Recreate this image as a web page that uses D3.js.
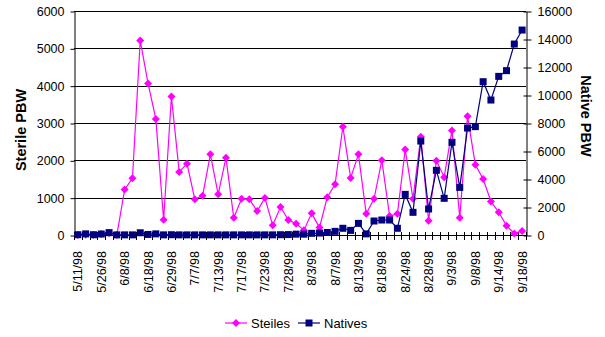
<!DOCTYPE html>
<html>
<head>
<meta charset="utf-8">
<script src="https://cdn.jsdelivr.net/npm/d3@7"></script>
<style>
  html, body { margin: 0; padding: 0; background: #fff; }
  svg { display: block; font-family: Arial, "Liberation Sans", sans-serif; }
</style>
</head>
<body>
<svg id="chart" width="605" height="337"></svg>
<script>
// Sample-day tick labels (one label every third sample)
const tickLabels = ["5/11/98", "5/26/98", "6/8/98", "6/18/98", "6/29/98", "7/7/98", "7/13/98",
  "7/17/98", "7/23/98", "7/28/98", "8/3/98", "8/7/98", "8/13/98", "8/18/98", "8/24/98",
  "8/28/98", "9/3/98", "9/8/98", "9/14/98", "9/18/98"];
const labelEvery = 3;

// Sterile PBW counts per sample (left axis)
const steriles = [0, 10, 0, 30, 50, 0, 1220, 1520, 5210, 4060, 3110, 410, 3710, 1690, 1910, 960,
  1050, 2160, 1090, 2070, 460, 970, 960, 640, 990, 260, 750, 400, 300, 130, 580, 200, 1010, 1360,
  2900, 1530, 2160, 570, 970, 2000, 510, 570, 2290, 970, 2630, 380, 1990, 1550, 2800, 460, 3180,
  1880, 1500, 900, 610, 250, 40, 110];

// Native PBW counts per sample (right axis)
const natives = [20, 80, 20, 70, 170, 10, 10, 10, 160, 40, 80, 10, 20, 10, 10, 10, 10, 10, 10, 10,
  10, 10, 10, 10, 10, 10, 20, 30, 60, 60, 120, 140, 180, 260, 480, 330, 830, 80, 1000, 1070, 1070,
  480, 2900, 1620, 6710, 1860, 4620, 2620, 6620, 3400, 7640, 7740, 10950, 9640, 11330, 11740,
  13640, 14640];

const leftTicks = [0, 1000, 2000, 3000, 4000, 5000, 6000];
const rightTicks = [0, 2000, 4000, 6000, 8000, 10000, 12000, 14000, 16000];

const seriesNames = ["Steiles", "Natives"];
const colors = { Steiles: "#ff00ff", Natives: "#000080" };

const svg = d3.select("#chart");
const plot = { left: 74, right: 526, top: 11, bottom: 235 };
const fmt = d3.format("d");

const x = d3.scaleBand().domain(d3.range(steriles.length)).range([plot.left, plot.right]);
const cx = i => x(i) + x.bandwidth() / 2;
const yL = d3.scaleLinear().domain([0, 6000]).range([plot.bottom, plot.top]);
const yR = d3.scaleLinear().domain([0, 16000]).range([plot.bottom, plot.top]);

// Horizontal gridlines from the left axis
svg.append("g").selectAll("line").data(leftTicks.filter(v => v > 0)).join("line")
  .attr("x1", plot.left).attr("x2", plot.right)
  .attr("y1", d => Math.round(yL(d)) + 0.5).attr("y2", d => Math.round(yL(d)) + 0.5)
  .attr("stroke", "#000").attr("stroke-width", 1);

// Left axis
const gL = svg.append("g").attr("transform", `translate(${plot.left + 0.5},0.5)`)
  .call(d3.axisLeft(yL).tickValues(leftTicks).tickFormat(fmt).tickSize(4).tickPadding(6).tickSizeOuter(0));
gL.select(".domain").attr("stroke", "#000");
gL.selectAll(".tick line").attr("stroke", "#000");
gL.selectAll(".tick text").attr("font-size", "12.5px").attr("fill", "#000")
  .attr("font-family", "Arial, 'Liberation Sans', sans-serif");

// Right axis (ticks cross the axis line)
const gR = svg.append("g").attr("transform", `translate(${plot.right + 0.5},0.5)`)
  .call(d3.axisRight(yR).tickValues(rightTicks).tickFormat(fmt).tickSize(5).tickPadding(6).tickSizeOuter(0));
gR.select(".domain").attr("stroke", "#000");
gR.selectAll(".tick line").attr("stroke", "#000").attr("x1", -3);
gR.selectAll(".tick text").attr("font-size", "12.5px").attr("fill", "#000")
  .attr("font-family", "Arial, 'Liberation Sans', sans-serif");

// Category axis: tick marks on band boundaries, labels on every third sample
const boundaries = d3.range(steriles.length + 1).map(i =>
  i < steriles.length ? x(i) : x(steriles.length - 1) + x.bandwidth());
const gX = svg.append("g");
gX.append("line").attr("x1", plot.left).attr("x2", plot.right + 1)
  .attr("y1", plot.bottom + 0.5).attr("y2", plot.bottom + 0.5).attr("stroke", "#000");
gX.selectAll("line.tk").data(boundaries).join("line").attr("class", "tk")
  .attr("x1", d => Math.round(d) + 0.5).attr("x2", d => Math.round(d) + 0.5)
  .attr("y1", plot.bottom - 3).attr("y2", plot.bottom + 5).attr("stroke", "#000");
gX.selectAll("text").data(tickLabels).join("text")
  .attr("transform", (d, k) => `translate(${cx(k * labelEvery) + 4.5},${plot.bottom + 16}) rotate(-90)`)
  .attr("text-anchor", "end").attr("font-size", "12.5px").attr("fill", "#000")
  .text(d => d);

// Series lines and markers
const diamond = (px, py, r) => `M${px},${py - r}L${px + r},${py}L${px},${py + r}L${px - r},${py}Z`;

const lineL = d3.line().x((d, i) => cx(i)).y(d => yL(d));
const lineR = d3.line().x((d, i) => cx(i)).y(d => yR(d));

svg.append("path").datum(steriles).attr("d", lineL)
  .attr("fill", "none").attr("stroke", colors.Steiles).attr("stroke-width", 1.2);
svg.append("g").selectAll("path").data(steriles).join("path")
  .attr("d", (d, i) => diamond(cx(i), yL(d), 4))
  .attr("fill", colors.Steiles);

svg.append("path").datum(natives).attr("d", lineR)
  .attr("fill", "none").attr("stroke", colors.Natives).attr("stroke-width", 1.2);
svg.append("g").selectAll("rect").data(natives).join("rect")
  .attr("x", (d, i) => cx(i) - 3.5).attr("y", d => yR(d) - 3.5)
  .attr("width", 7).attr("height", 7)
  .attr("fill", colors.Natives);

// Axis titles
svg.append("text").attr("transform", "translate(26,130) rotate(-90)")
  .attr("text-anchor", "middle").attr("font-size", "14.5px").attr("font-weight", "bold")
  .text("Sterile PBW");
svg.append("text").attr("transform", "translate(581,116) rotate(90)")
  .attr("text-anchor", "middle").attr("font-size", "14.5px").attr("font-weight", "bold")
  .text("Native PBW");

// Legend
const legend = svg.append("g");
const legendItems = [
  { name: seriesNames[0], x0: 225, shape: "diamond" },
  { name: seriesNames[1], x0: 298, shape: "square" }
];
legendItems.forEach(it => {
  const ly = 323;
  legend.append("line").attr("x1", it.x0).attr("x2", it.x0 + 22)
    .attr("y1", ly).attr("y2", ly).attr("stroke", colors[it.name]).attr("stroke-width", 1.2);
  if (it.shape === "diamond") {
    legend.append("path").attr("d", diamond(it.x0 + 11, ly, 4)).attr("fill", colors[it.name]);
  } else {
    legend.append("rect").attr("x", it.x0 + 11 - 3.5).attr("y", ly - 3.5)
      .attr("width", 7).attr("height", 7).attr("fill", colors[it.name]);
  }
  legend.append("text").attr("x", it.x0 + 26).attr("y", ly + 4.5)
    .attr("font-size", "13px").attr("fill", "#000").text(it.name);
});
</script>
</body>
</html>
